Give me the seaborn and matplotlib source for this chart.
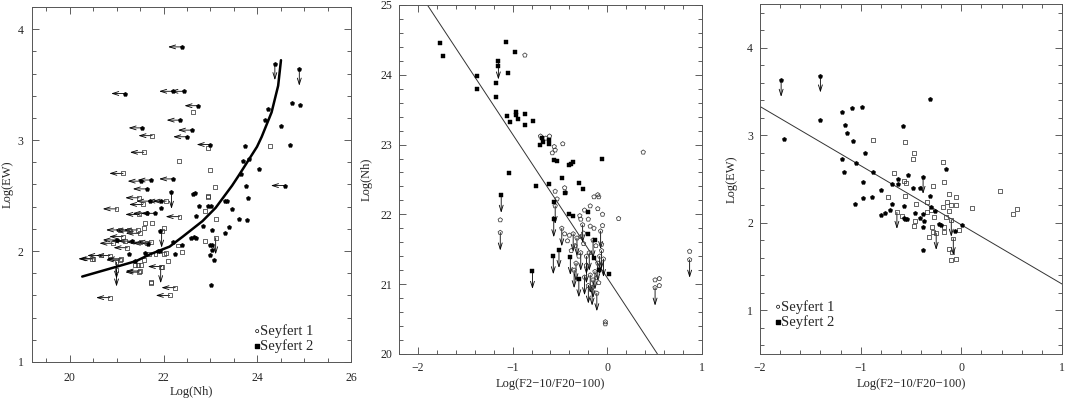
import numpy as np
import pandas as pd
import matplotlib
matplotlib.use("Agg")
import matplotlib.pyplot as plt
import seaborn as sns
from matplotlib.ticker import MultipleLocator

# ---- panel 1 : Log(Nh) vs Log(EW) ----
# limit codes: L = upper limit on x (left arrow), D = upper limit on y (down arrow), . = detection
p1_sy2_x = [22.39, 21.18, 22.20, 22.44, 22.74, 22.36, 22.60, 21.55, 22.50, 23.00,
            21.53, 21.74, 22.20, 21.64, 22.17, 22.67, 24.37, 24.89, 24.73, 24.90,
            24.23, 24.15, 24.51, 24.69, 23.73, 23.83, 23.70, 24.04, 23.65, 23.76,
            24.58, 23.80, 21.71, 21.95, 21.95, 22.62, 22.76, 22.95, 23.02, 22.69,
            23.31, 23.35, 23.46, 23.60, 23.77, 23.39, 22.84, 23.04, 23.30, 22.58,
            22.65, 22.69, 22.99, 23.04, 23.04, 22.99, 23.07, 23.02, 22.39, 22.25,
            22.20, 21.26, 21.92, 21.32, 21.00, 21.64, 21.81, 21.92, 21.39, 21.60,
            21.68, 21.88]
p1_sy2_y = [3.84, 3.42, 3.44, 3.44, 3.31, 3.18, 3.09, 3.11, 3.03, 2.96,
            2.63, 2.64, 2.65, 2.56, 2.53, 2.52, 3.69, 3.64, 3.33, 3.32,
            3.28, 3.18, 3.13, 2.96, 2.95, 2.83, 2.81, 2.74, 2.69, 2.59,
            2.59, 2.48, 2.45, 2.45, 2.39, 2.51, 2.41, 2.41, 2.41, 2.32,
            2.45, 2.45, 2.38, 2.29, 2.28, 2.22, 2.23, 2.19, 2.16, 2.12,
            2.13, 2.12, 2.05, 2.05, 2.01, 1.96, 1.92, 1.69, 2.05, 1.97,
            2.08, 1.97, 2.00, 2.09, 2.10, 2.34, 2.34, 2.18, 1.91, 1.98,
            2.06, 2.00]
p1_sy2_lim = list("LLLLLLLLLL" "LLLLD.DD.." ".........." "L.LL......"
                  ".........." ".........." "...LLLL.....")

p1_sy1_x = [22.62, 21.76, 22.95, 21.58, 22.32, 22.99, 21.14, 23.09, 22.95, 21.48,
            24.27, 21.00, 21.56, 22.06, 22.95, 22.88, 23.12, 22.88, 23.11, 22.39,
            22.31, 22.09, 21.96, 21.94, 22.25, 22.13, 21.73, 20.86, 21.48, 21.52,
            21.46, 21.39, 21.00, 21.59, 21.09, 20.48, 20.86, 20.67, 21.70, 21.83,
            22.06, 21.74, 21.64, 21.51, 21.23, 21.27, 21.45, 21.07, 21.61, 21.76,
            21.59, 21.48, 22.34, 21.96, 22.01, 21.49, 21.28, 21.14, 21.18, 20.93,
            20.51, 21.07, 21.00, 21.49, 22.01, 21.74]
p1_sy1_y = [3.25, 3.04, 2.93, 2.89, 2.81, 2.73, 2.70, 2.58, 2.49, 2.48,
            2.95, 2.38, 2.42, 2.45, 2.50, 2.36, 2.29, 2.09, 2.12, 1.99,
            2.05, 1.91, 1.86, 1.86, 1.67, 1.60, 1.71, 1.58, 1.81, 1.87,
            1.87, 1.87, 1.90, 1.92, 1.93, 1.93, 1.96, 1.96, 1.97, 1.97,
            1.98, 2.08, 2.07, 2.08, 2.03, 2.19, 2.19, 2.19, 2.25, 2.25,
            2.21, 2.33, 2.31, 2.18, 2.21, 2.16, 2.18, 2.13, 2.09, 2.07,
            1.93, 1.92, 1.83, 1.82, 1.97, 1.72]
p1_sy1_lim = list(".L.L..L..L" ".LLL....D." "..LDLL.LL." "..D.LLLL.."
                  ".LLLLLLL.." ".LLD.LLLLL" "LLDL..")

p1_curve_x = [20.27, 20.93, 21.42, 21.71, 22.13, 22.41, 22.83, 23.11, 23.46, 23.60,
              23.99, 24.09, 24.30, 24.44, 24.50]
p1_curve_y = [1.77, 1.85, 1.91, 1.97, 2.04, 2.13, 2.27, 2.39, 2.59, 2.68,
              2.94, 3.03, 3.25, 3.49, 3.72]

# ---- panel 2 : Log(F2-10/F20-100) vs Log(Nh) ----
p2_sy2_x = [-1.765, -1.737, -1.38, -1.376, -1.074, -0.97, -1.15, -1.15, -1.045, -1.17,
            -1.17, -1.06, -1.03, -0.965, -0.965, -0.947, -0.87, -0.87, -0.786, -0.69,
            -0.68, -0.71, -0.62, -0.61, -0.56, -0.53, -0.40, -0.38, -0.36, -0.056,
            -1.04, -0.48, -0.30, -0.75, -0.62, -0.256, -0.45, -1.12, -0.79, -0.57,
            -0.51, -0.565, -0.565, -0.40, -0.365, -0.39, -0.30, -0.20, -0.14, -0.126,
            -0.09, 0.014, -0.20]
p2_sy2_y = [24.46, 24.27, 23.98, 23.79, 24.47, 24.32, 24.19, 24.12, 24.03, 23.88,
            23.68, 23.41, 23.32, 23.46, 23.43, 23.37, 23.44, 23.28, 23.34, 23.09,
            23.03, 23.00, 23.07, 23.01, 22.78, 22.76, 22.70, 22.72, 22.75, 22.79,
            22.59, 22.52, 22.45, 22.41, 22.43, 22.36, 22.31, 22.28, 21.19, 21.40,
            21.49, 22.18, 21.93, 22.01, 21.98, 21.39, 21.07, 22.04, 21.38, 21.63,
            21.20, 21.14, 21.72]
p2_sy2_lim = list("......D..." ".........." ".........." ".......DDD"
                  "D.D..DD..." "...")

p2_sy1_x = [-0.87, -0.705, -0.61, -0.65, -0.56, -0.55, -0.58, -0.47, 0.38, -0.09,
            -0.55, -0.45, -0.44, -1.13, -1.13, 0.12, 0.505, 0.55, 0.505, 0.55,
            0.87, 0.87,
            -0.36, -0.34, -0.32, -0.28, -0.33, -0.35, -0.28, -0.25, -0.22, -0.22,
            -0.18, -0.15, -0.16, -0.11, -0.11, -0.10, -0.08, -0.07, -0.06, -0.05,
            -0.05, -0.10, -0.10, -0.14, -0.18, -0.24, -0.28, -0.25, -0.20, -0.18,
            -0.14, -0.06, -0.04, -0.09, -0.02, -0.02, -0.26, -0.30, -0.38, -0.42,
            -0.40, -0.45, -0.48, -0.55, -0.53, -0.29, -0.15, -0.12, -0.19, -0.13,
            -0.20, -0.24]
p2_sy1_y = [24.28, 23.12, 23.12, 23.09, 22.97, 22.92, 22.88, 23.01, 22.89, 22.25,
            22.33, 22.38, 22.31, 21.92, 21.74, 21.94, 21.06, 21.08, 20.95, 20.98,
            21.47, 21.35,
            21.72, 21.55, 21.66, 21.68, 21.30, 21.20, 21.45, 21.58, 21.40, 21.27,
            21.13, 21.06, 20.95, 20.87, 21.09, 21.30, 21.40, 21.76, 21.57, 21.84,
            22.00, 22.08, 22.28, 22.25, 22.12, 22.06, 21.93, 21.73, 21.93, 21.83,
            21.80, 21.48, 21.36, 21.02, 20.46, 20.43, 21.85, 21.40, 21.48, 21.62,
            21.70, 21.72, 21.80, 22.12, 22.22, 21.98, 21.63, 21.55, 21.45, 21.18,
            20.98, 21.10]
p2_sy1_lim = list(".........." "....D...D." ".D"
                  "D.D.DDD.DD" "DDDD.DDD.." ".........." ".DD...D..."
                  "..DD..D.DD" "DD")

p2_fit_x = [-1.90, 0.53]
p2_fit_y = [25.0, 20.0]

# ---- panel 3 : Log(F2-10/F20-100) vs Log(EW) ----
p3_sy2_x = [-1.79, -1.40, -1.76, -1.40, -1.19, -1.09, -0.99, -1.16, -1.14, -1.08,
            -0.96, -1.19, -1.05, -1.17, -0.88, -0.98, -0.69, -0.63, -0.63, -0.53,
            -0.58, -0.31, -0.38, -0.48, -0.41, -0.15, -0.31, -0.80, -0.89, -0.98,
            -1.06, -0.69, -0.71, -0.76, -0.80, -0.57, -0.57, -0.56, -0.54, -0.46,
            -0.41, -0.38, -0.38, -0.37, -0.38, -0.30, -0.26, -0.22, -0.20, -0.06,
            0.01]
p3_sy2_y = [3.63, 3.68, 2.96, 3.18, 3.27, 3.31, 3.32, 3.12, 3.03, 2.94,
            2.80, 2.73, 2.68, 2.58, 2.58, 2.47, 2.44, 2.50, 2.44, 2.55,
            3.11, 3.41, 2.52, 2.40, 2.40, 2.62, 2.31, 2.37, 2.29, 2.28,
            2.21, 2.21, 2.15, 2.11, 2.09, 2.19, 2.06, 2.04, 2.04, 2.11,
            2.06, 2.10, 1.95, 2.02, 1.69, 2.18, 2.13, 1.99, 1.97, 1.91,
            1.97]
p3_sy2_lim = list("DD........" ".........." "..D......." ".........."
                  ".........." ".")

p3_sy1_x = [-0.88, -0.56, -0.47, -0.48, -0.18, -0.67, -0.57, -0.55, -0.28, -0.17,
            -0.12, -0.05, 0.38, -0.73, -0.56, -0.64, -0.59, -0.47, -0.46, -0.45,
            -0.34, -0.34, -0.30, -0.27, -0.29, -0.32, -0.28, -0.25, -0.18, -0.14,
            -0.17, -0.17, -0.15, -0.12, -0.10, -0.05, -0.12, -0.09, -0.10, -0.05,
            -0.02, -0.10, -0.08, 0.11, 0.51, 0.55]
p3_sy1_y = [2.95, 2.92, 2.80, 2.73, 2.69, 2.57, 2.48, 2.45, 2.42, 2.47,
            2.33, 2.30, 2.36, 2.29, 2.31, 2.12, 2.08, 1.96, 2.02, 2.22,
            2.24, 2.12, 2.15, 2.07, 1.95, 1.84, 1.90, 1.88, 2.18, 2.24,
            1.95, 1.90, 2.07, 2.13, 2.20, 2.20, 1.70, 1.67, 1.57, 1.59,
            1.92, 2.03, 1.82, 2.17, 2.10, 2.16]
p3_sy1_lim = list(".........." ".....D...." ".......D.." ".........."
                  ".DD...")

p3_fit_x = [-2.0, 1.0]
p3_fit_y = [3.33, 1.30]

sns.set_style("ticks")
plt.rcParams["font.family"] = ["Liberation Serif", "DejaVu Serif"]
plt.rcParams["axes.unicode_minus"] = True


def make_df(xs, ys, lims):
    return pd.DataFrame({"x": xs, "y": ys, "lim": lims[:len(xs)]})


def draw_points(ax, df, marker, filled, size, down_len, left_len):
    if filled:
        sns.scatterplot(data=df, x="x", y="y", ax=ax, marker=marker, s=size,
                        color="k", edgecolor="k", linewidth=0.3, legend=False, zorder=3)
    else:
        sns.scatterplot(data=df, x="x", y="y", ax=ax, marker=marker, s=size,
                        facecolors="none", edgecolor="#3a3a3a", linewidth=0.55,
                        legend=False, zorder=3)
    for _, r in df.iterrows():
        if r["lim"] == "L":
            off = (-left_len, 0)
        elif r["lim"] == "D":
            off = (0, -down_len)
        else:
            continue
        ax.annotate("", xy=(r["x"], r["y"]), xytext=off, textcoords="offset points",
                    arrowprops=dict(arrowstyle="<-,head_length=0.45,head_width=0.14",
                                    lw=0.6, color="k", shrinkA=0, shrinkB=0),
                    zorder=2)


def style_axes(ax, xlim, ylim, xmaj, xmin, ymaj, ymin, xlabel, ylabel, ylab_x, ypad, xpad):
    ax.set_xlim(*xlim)
    ax.set_ylim(*ylim)
    ax.xaxis.set_major_locator(MultipleLocator(xmaj))
    ax.xaxis.set_minor_locator(MultipleLocator(xmin))
    ax.yaxis.set_major_locator(MultipleLocator(ymaj))
    ax.yaxis.set_minor_locator(MultipleLocator(ymin))
    ax.tick_params(which="both", direction="in", top=True, right=True,
                   width=0.6, color="#444444", labelsize=8.5)
    ax.tick_params(which="major", length=5)
    ax.tick_params(which="minor", length=3)
    ax.tick_params(axis="y", which="major", pad=ypad)
    ax.tick_params(axis="x", which="major", pad=xpad)
    for sp in ax.spines.values():
        sp.set_linewidth(0.7)
        sp.set_color("#555555")
    ax.set_xlabel(xlabel, fontsize=9)
    ax.set_ylabel(ylabel, fontsize=9)
    ax.yaxis.set_label_coords(ylab_x, 0.5)
    ax.xaxis.set_label_coords(0.5, -0.068)


def legend_text(ax, x0, y0, dy):
    ax.scatter([x0], [y0], transform=ax.transAxes, marker="o", s=5,
               facecolors="none", edgecolors="k", linewidths=0.5, clip_on=False)
    ax.scatter([x0], [y0 - dy], transform=ax.transAxes, marker="s", s=6,
               color="k", clip_on=False)
    ax.text(x0 + 0.008, y0, "Seyfert 1", transform=ax.transAxes, fontsize=10.5,
            va="center", ha="left")
    ax.text(x0 + 0.008, y0 - dy, "Seyfert 2", transform=ax.transAxes, fontsize=10.5,
            va="center", ha="left")


fig = plt.figure(figsize=(10.65, 3.98), dpi=100)
ax1 = fig.add_axes([0.030, 0.0905, 0.300, 0.892])
ax2 = fig.add_axes([0.3746, 0.1106, 0.2845, 0.877])
ax3 = fig.add_axes([0.7136, 0.1106, 0.2836, 0.879])

# panel 1
draw_points(ax1, make_df(p1_sy1_x, p1_sy1_y, p1_sy1_lim), "s", False, 8, 12, 10)
draw_points(ax1, make_df(p1_sy2_x, p1_sy2_y, p1_sy2_lim), "p", True, 11, 12, 10)
ax1.plot(p1_curve_x, p1_curve_y, color="k", lw=1.8, zorder=4)
style_axes(ax1, (19.2, 26), (1, 4.2), 2, 0.5, 1, 0.2, "Log(Nh)", "Log(EW)", -0.056, 6, 7)
legend_text(ax1, 0.705, 0.087, 0.043)

# panel 2
draw_points(ax2, make_df(p2_sy1_x, p2_sy1_y, p2_sy1_lim), "p", False, 11, 13, 10)
draw_points(ax2, make_df(p2_sy2_x, p2_sy2_y, p2_sy2_lim), "s", True, 9, 13, 10)
ax2.plot(p2_fit_x, p2_fit_y, color="#333333", lw=0.7, zorder=1)
style_axes(ax2, (-2.2, 1), (20, 25), 1, 0.2, 1, 0.2, "Log(F2\u221210/F20\u2212100)",
           "Log(Nh)", -0.086, 5, 6)

# panel 3
draw_points(ax3, make_df(p3_sy1_x, p3_sy1_y, p3_sy1_lim), "s", False, 8, 12, 10)
draw_points(ax3, make_df(p3_sy2_x, p3_sy2_y, p3_sy2_lim), "p", True, 11, 12, 10)
ax3.plot(p3_fit_x, p3_fit_y, color="#333333", lw=0.7, zorder=1)
style_axes(ax3, (-2, 1), (0.5, 4.5), 1, 0.2, 1, 0.2, "Log(F2\u221210/F20\u2212100)",
           "Log(EW)", -0.073, 5, 6)
legend_text(ax3, 0.06, 0.135, 0.043)

fig.savefig("out.png", dpi=100)
